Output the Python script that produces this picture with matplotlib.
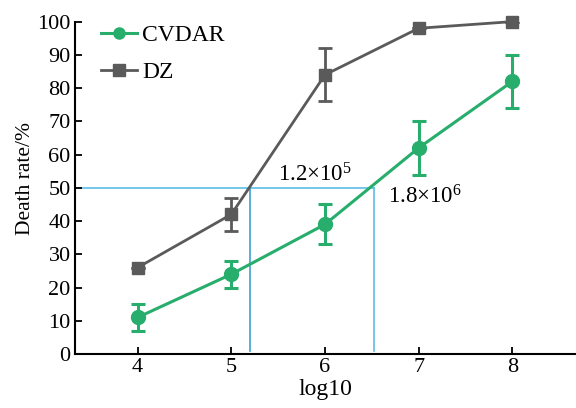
import numpy as np
import matplotlib.pyplot as plt
from matplotlib.lines import Line2D

plt.rcParams['font.family'] = ['Liberation Serif', 'DejaVu Serif']
plt.rcParams['mathtext.fontset'] = 'custom'
plt.rcParams['mathtext.rm'] = 'Liberation Serif'
plt.rcParams['mathtext.it'] = 'Liberation Serif'

x = [4, 5, 6, 7, 8]
cvdar = [11, 24, 39, 62, 82]
cvdar_err = [4, 4, 6, 8, 8]
dz = [26, 42, 84, 98, 100]
dz_err = [0, 5, 8, 0, 0]

ld50_x = [5.2, 6.52]
ld50_labels = ["1.2×10$^5$", "1.8×10$^6$"]

green = "#27ad6c"
gray = "#5a5a5a"
blue = "#5bbde6"

fig = plt.figure(figsize=(5.76, 4.08), dpi=100)
ax = fig.add_axes([0.13, 0.1324, 0.87, 0.8146])

ax.plot([3.33, ld50_x[1]], [50, 50], color=blue, lw=1.2, zorder=1)
ax.plot([ld50_x[0], ld50_x[0]], [1, 50], color="#3d9fd6", lw=1.2, zorder=1)
ax.plot([ld50_x[1], ld50_x[1]], [1, 50], color=blue, lw=1.2, zorder=1)

ax.errorbar(x, cvdar, yerr=cvdar_err, color=green, marker="o", ms=10,
            lw=2.2, elinewidth=2.2, capsize=5, capthick=2.2, zorder=3)
dz_bars = ax.errorbar(x, dz, yerr=dz_err, color=gray, marker="s", ms=9,
                      lw=2, elinewidth=2, capsize=5, capthick=2, zorder=2)
dz_bars.lines[0].set_clip_on(False)

ax.text(5.89, 54, ld50_labels[0], fontsize=16.5, ha="center", va="center")
ax.text(7.07, 47.3, ld50_labels[1], fontsize=16.5, ha="center", va="center")

ax.set_xlim(3.33, 8.68)
ax.set_ylim(0, 100)
ax.set_xticks(x)
ax.set_yticks(np.arange(0, 101, 10))
ax.tick_params(labelsize=16, width=1.3, length=5, pad=3, direction="in")
ax.tick_params(axis="y", pad=3)
ax.spines["top"].set_visible(False)
ax.spines["right"].set_visible(False)
ax.spines["left"].set_linewidth(1.5)
ax.spines["bottom"].set_linewidth(1.5)
ax.set_xlabel("log10", fontsize=17, labelpad=1)
ax.set_ylabel("Death rate/%", fontsize=15.5)
ax.yaxis.set_label_coords(-0.08, 0.528)

handles = [
    Line2D([], [], color=green, marker="o", ms=8, lw=2.2),
    Line2D([], [], color=gray, marker="s", ms=8, lw=2),
]
ax.legend(handles, ["CVDAR", "DZ"], loc="upper left", frameon=False, fontsize=17,
          bbox_to_anchor=(0.01, 1.055), handlelength=1.5, handletextpad=0.25,
          labelspacing=0.65)

fig.savefig("out.png", dpi=100)
